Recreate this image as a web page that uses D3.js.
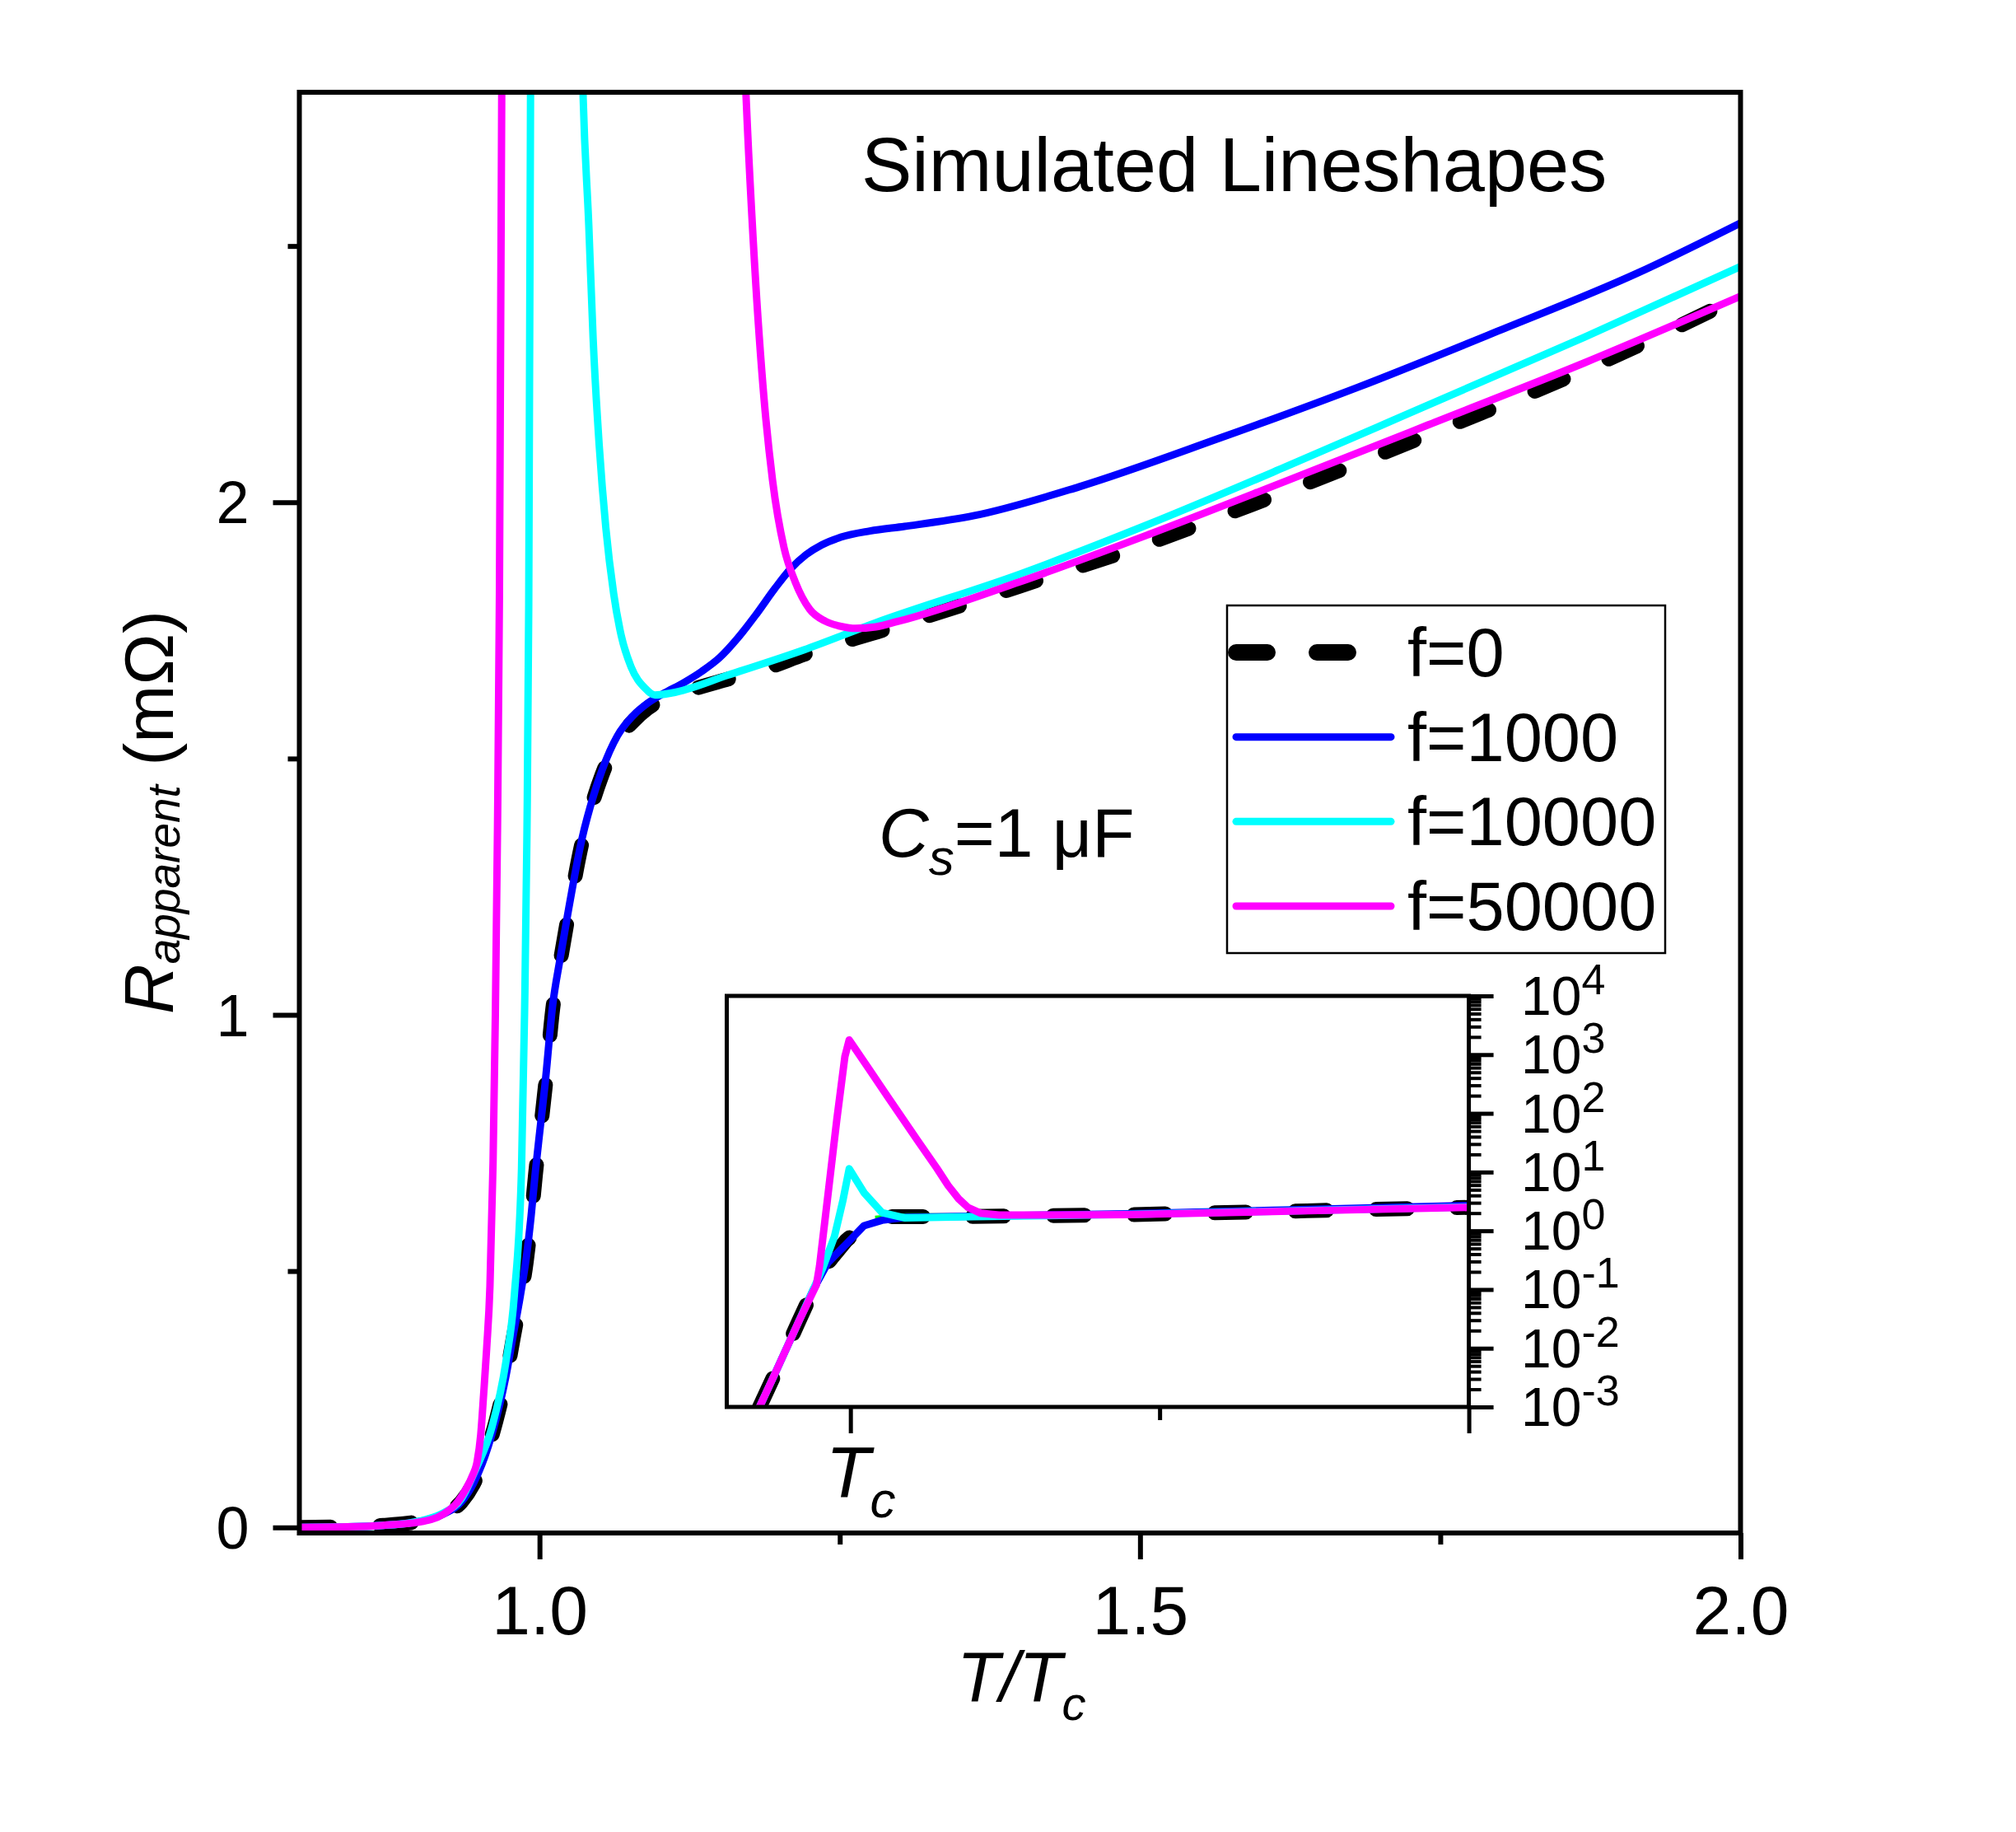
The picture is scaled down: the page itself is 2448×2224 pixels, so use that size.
<!DOCTYPE html>
<html>
<head>
<meta charset="utf-8">
<script src="https://cdn.jsdelivr.net/npm/d3@7"></script>
<style>
  body { margin: 0; background: #fff; }
  text { font-family: "Liberation Sans", Arial, sans-serif; fill: #000; }
</style>
</head>
<body>
<svg id="chart"></svg>
<script>
// ---- main panel: T/Tc vs R_apparent (mOhm) ----
const tF0 = [0.80, 0.84, 0.87, 0.89, 0.905, 0.92, 0.935, 0.945, 0.955, 0.964, 0.972, 0.978, 0.984, 0.989, 0.993, 0.9966, 1.0005, 1.0046, 1.011, 1.017, 1.023, 1.035, 1.045, 1.052, 1.065, 1.078, 1.09, 1.104, 1.13, 1.157, 1.19, 1.22, 1.288, 1.35, 1.42, 1.50, 1.57, 1.64, 1.70, 1.766, 1.83, 1.885, 1.95, 2.00]
const rF0 = [0.000, 0.001, 0.004, 0.008, 0.014, 0.026, 0.050, 0.085, 0.140, 0.210, 0.290, 0.368, 0.445, 0.519, 0.600, 0.688, 0.770, 0.856, 1.012, 1.100, 1.182, 1.332, 1.420, 1.468, 1.535, 1.573, 1.598, 1.618, 1.637, 1.655, 1.677, 1.703, 1.752, 1.798, 1.852, 1.914, 1.975, 2.038, 2.094, 2.157, 2.218, 2.274, 2.345, 2.402]

const tF1000 = [0.80, 0.84, 0.87, 0.89, 0.905, 0.92, 0.935, 0.945, 0.955, 0.964, 0.972, 0.978, 0.984, 0.989, 0.993, 0.9966, 1.0005, 1.0046, 1.011, 1.017, 1.023, 1.035, 1.045, 1.052, 1.065, 1.078, 1.09, 1.104, 1.12, 1.135, 1.15, 1.165, 1.18, 1.196, 1.209, 1.222, 1.235, 1.251, 1.275, 1.304, 1.362, 1.449, 1.565, 1.681, 1.798, 1.914, 2.00]
const rF1000 = [0.000, 0.001, 0.004, 0.008, 0.014, 0.026, 0.050, 0.086, 0.142, 0.213, 0.295, 0.374, 0.452, 0.527, 0.608, 0.696, 0.779, 0.865, 1.020, 1.108, 1.190, 1.340, 1.428, 1.477, 1.545, 1.584, 1.608, 1.628, 1.648, 1.670, 1.697, 1.735, 1.780, 1.832, 1.870, 1.898, 1.917, 1.932, 1.944, 1.953, 1.974, 2.030, 2.124, 2.224, 2.334, 2.447, 2.545]

const tF10000 = [0.80, 0.84, 0.87, 0.89, 0.905, 0.92, 0.935, 0.947, 0.960, 0.972, 0.979, 0.985, 0.9875, 0.9895, 0.991, 0.9925, 0.995, 1.0, 1.01, 1.025, 1.0363, 1.041, 1.0446, 1.0497, 1.0552, 1.0617, 1.068, 1.076, 1.088, 1.096, 1.11, 1.157, 1.22, 1.28, 1.40, 1.507, 1.62, 1.74, 1.87, 2.00]
const rF10000 = [0.000, 0.001, 0.004, 0.008, 0.015, 0.028, 0.056, 0.114, 0.193, 0.323, 0.453, 0.700, 1.000, 1.350, 1.800, 2.800, 5.0, 11.4, 8.0, 4.5, 2.79, 2.54, 2.32, 2.11, 1.95, 1.822, 1.740, 1.680, 1.637, 1.624, 1.628, 1.663, 1.712, 1.765, 1.860, 1.957, 2.068, 2.190, 2.322, 2.460]

const tF50000 = [0.80, 0.84, 0.87, 0.899, 0.92, 0.932, 0.939, 0.944, 0.948, 0.951, 0.9534, 0.956, 0.9587, 0.9613, 0.9632, 0.965, 0.9666, 0.9685, 0.975, 0.99, 1.0, 1.05, 1.1, 1.14, 1.172, 1.179, 1.187, 1.194, 1.2036, 1.213, 1.225, 1.238, 1.251, 1.263, 1.28, 1.2975, 1.40, 1.507, 1.62, 1.74, 1.87, 2.00]
const rF50000 = [0.000, 0.001, 0.004, 0.010, 0.026, 0.050, 0.076, 0.100, 0.128, 0.180, 0.258, 0.350, 0.470, 0.713, 1.000, 1.364, 1.820, 2.790, 8.0, 300, 1900, 200, 25, 6.0, 2.79, 2.467, 2.200, 2.043, 1.911, 1.844, 1.791, 1.768, 1.758, 1.754, 1.757, 1.767, 1.845, 1.937, 2.040, 2.151, 2.272, 2.402]

// ---- inset: same curves on a log axis ----
const tiF0 = [0.853, 0.877, 0.916, 0.94, 0.964, 0.993, 1.031, 1.061, 1.177, 1.448, 1.738, 2.0]
const riF0 = [0.001, 0.0035, 0.028, 0.1, 0.29, 0.68, 1.53, 1.74, 1.74, 1.88, 2.19, 2.5]
const tiGreen = [1.04, 1.09, 1.2, 1.45, 1.74, 2.0]
const riGreen = [1.62, 1.78, 1.78, 1.93, 2.26, 2.6]
const tiF1000 = [0.853, 0.877, 0.916, 0.94, 0.964, 0.993, 1.022, 1.051, 1.09, 1.2, 1.45, 1.74, 2.0]
const riF1000 = [0.001, 0.0035, 0.028, 0.1, 0.29, 0.59, 1.22, 1.51, 1.70, 1.77, 1.95, 2.3, 2.7]
const tiF10000 = [0.853, 0.877, 0.916, 0.94, 0.955, 0.974, 0.988, 0.998, 1.022, 1.051, 1.087, 1.2, 1.45, 1.74, 2.0]
const riF10000 = [0.001, 0.0035, 0.028, 0.1, 0.23, 0.79, 3.35, 11.4, 4.45, 2.04, 1.66, 1.74, 1.9, 2.22, 2.55]
const tiF50000 = [0.853, 0.877, 0.916, 0.945, 0.95, 0.964, 0.978, 0.991, 0.998, 1.03, 1.061, 1.109, 1.14, 1.158, 1.175, 1.19, 1.21, 1.24, 1.45, 1.74, 2.0]
const riF50000 = [0.001, 0.0035, 0.028, 0.12, 0.25, 4.4, 79, 925, 1780, 568, 186, 34, 11.5, 5.9, 3.5, 2.5, 2.0, 1.85, 1.88, 2.19, 2.5]

// ticks
const xMajor = [1.0, 1.5, 2.0]
const xMinor = [1.25, 1.75]
const yMajor = [0, 1, 2]
const yMinor = [0.5, 1.5, 2.5]
const insetXMajor = [1.0, 2.0]
const insetXMinor = [1.5]
const insetDecades = [-3, -2, -1, 0, 1, 2, 3, 4]
const legendNames = ['f=0', 'f=1000', 'f=10000', 'f=50000']

const zip = (a, b) => a.map((v, i) => [v, b[i]])

const series = [
  { name: 'f=0', main: zip(tF0, rF0), inset: zip(tiF0, riF0), color: '#000000', width: 18, dash: '38 60' },
  { name: 'f=1000', main: zip(tF1000, rF1000), inset: zip(tiF1000, riF1000), color: '#0000ff', width: 9 },
  { name: 'f=10000', main: zip(tF10000, rF10000), inset: zip(tiF10000, riF10000), color: '#00ffff', width: 9 },
  { name: 'f=50000', main: zip(tF50000, rF50000), inset: zip(tiF50000, riF50000), color: '#ff00ff', width: 9 }
]

const width = 2448
const height = 2224

const svg = d3.select('#chart')
  .attr('width', width)
  .attr('height', height)

const x = d3.scaleLinear().domain([0.8, 2.0]).range([363.5, 2113.5])
const y = d3.scaleLinear().domain([-0.011, 2.8]).range([1861, 112])

const defs = svg.append('defs')
defs.append('clipPath').attr('id', 'clipMain')
  .append('rect')
  .attr('x', x.range()[0]).attr('y', y.range()[1])
  .attr('width', x.range()[1] - x.range()[0])
  .attr('height', y.range()[0] - y.range()[1])

const line = d3.line()
  .x(d => x(d[0]))
  .y(d => y(d[1]))
  .curve(d3.curveMonotoneX)

// main curves
const curves = svg.append('g').attr('clip-path', 'url(#clipMain)')
series.forEach(s => {
  curves.append('path')
    .datum(s.main)
    .attr('d', line)
    .attr('fill', 'none')
    .attr('stroke', s.color)
    .attr('stroke-width', s.width)
    .attr('stroke-dasharray', s.dash || null)
    .attr('stroke-linecap', s.dash ? 'round' : 'butt')
    .attr('stroke-linejoin', 'round')
})

// main axes
function styleAxis(g, size, sw) {
  g.select('.domain').remove()
  g.selectAll('line').attr('stroke', '#000').attr('stroke-width', sw)
  g.attr('font-family', '"Liberation Sans", Arial, sans-serif').attr('font-size', size)
}

const xAxisG = svg.append('g')
  .attr('transform', 'translate(0,' + y.range()[0] + ')')
  .call(d3.axisBottom(x).tickValues(xMajor).tickSize(32).tickSizeOuter(0).tickFormat(d3.format('.1f')))
styleAxis(xAxisG, 84, 6)
xAxisG.selectAll('text').attr('y', 123).attr('dy', 0)

svg.append('g')
  .attr('transform', 'translate(0,' + y.range()[0] + ')')
  .call(d3.axisBottom(x).tickValues(xMinor).tickSize(14).tickSizeOuter(0).tickFormat(''))
  .call(g => styleAxis(g, 10, 6))

const yAxisG = svg.append('g')
  .attr('transform', 'translate(' + x.range()[0] + ',0)')
  .call(d3.axisLeft(y).tickValues(yMajor).tickSize(32).tickSizeOuter(0).tickFormat(d3.format('d')))
styleAxis(yAxisG, 72, 6)
yAxisG.selectAll('text').attr('x', -61).attr('dy', '0.35em')

svg.append('g')
  .attr('transform', 'translate(' + x.range()[0] + ',0)')
  .call(d3.axisLeft(y).tickValues(yMinor).tickSize(14).tickSizeOuter(0).tickFormat(''))
  .call(g => styleAxis(g, 10, 6))

svg.append('rect')
  .attr('x', x.range()[0]).attr('y', y.range()[1])
  .attr('width', x.range()[1] - x.range()[0])
  .attr('height', y.range()[0] - y.range()[1])
  .attr('fill', 'none').attr('stroke', '#000').attr('stroke-width', 6)

// axis titles
const yTitle = svg.append('text')
  .attr('transform', 'translate(210,986) rotate(-90)')
  .attr('text-anchor', 'middle')
  .attr('font-size', 84)
yTitle.append('tspan').attr('font-style', 'italic').text('R')
yTitle.append('tspan').attr('font-style', 'italic').attr('font-size', 55).attr('dy', 8).text('apparent')
yTitle.append('tspan').attr('dy', -8).text(' (mΩ)')

const xTitle = svg.append('text')
  .attr('x', 1162).attr('y', 2065)
  .attr('font-size', 85).attr('font-style', 'italic')
xTitle.append('tspan').text('T/T')
xTitle.append('tspan').attr('font-size', 58).attr('dy', 23).text('c')

// title and annotation
svg.append('text')
  .attr('x', 1046).attr('y', 232)
  .attr('font-size', 92)
  .text('Simulated Lineshapes')

const cs = svg.append('text')
  .attr('x', 1067).attr('y', 1040)
  .attr('font-size', 84)
cs.append('tspan').attr('font-style', 'italic').text('C')
cs.append('tspan').attr('font-style', 'italic').attr('font-size', 62).attr('dy', 22).text('s')
cs.append('tspan').attr('dy', -22).text('=1 μF')

// legend
const legend = svg.append('g')
legend.append('rect')
  .attr('x', 1490).attr('y', 735).attr('width', 532).attr('height', 422)
  .attr('fill', '#fff').attr('stroke', '#000').attr('stroke-width', 2.5)

const rowY = d3.scalePoint().domain(legendNames).range([792, 1100])
series.forEach(s => {
  const yy = rowY(s.name)
  legend.append('line')
    .attr('x1', 1501).attr('x2', 1689).attr('y1', yy).attr('y2', yy)
    .attr('stroke', s.color)
    .attr('stroke-width', s.dash ? 20 : 9)
    .attr('stroke-dasharray', s.dash || null)
    .attr('stroke-linecap', 'round')
  legend.append('text')
    .attr('x', 1709).attr('y', yy).attr('dy', '0.35em')
    .attr('font-size', 83)
    .text(s.name)
})

// inset
const xi = d3.scaleLinear().domain([0.8, 2.0]).range([882.5, 1783.6])
const yi = d3.scaleLog().domain([1e-3, 1e4]).range([1708, 1209])

defs.append('clipPath').attr('id', 'clipInset')
  .append('rect')
  .attr('x', xi.range()[0]).attr('y', yi.range()[1])
  .attr('width', xi.range()[1] - xi.range()[0])
  .attr('height', yi.range()[0] - yi.range()[1])

svg.append('rect')
  .attr('x', xi.range()[0]).attr('y', yi.range()[1])
  .attr('width', xi.range()[1] - xi.range()[0])
  .attr('height', yi.range()[0] - yi.range()[1])
  .attr('fill', '#fff')

const lineInset = d3.line()
  .x(d => xi(d[0]))
  .y(d => yi(d[1]))

const insetCurves = svg.append('g').attr('clip-path', 'url(#clipInset)')
const insetOrder = [series[0], { inset: zip(tiGreen, riGreen), color: '#00ff00', width: 7 }, series[1], series[2], series[3]]
insetOrder.forEach(s => {
  insetCurves.append('path')
    .datum(s.inset)
    .attr('d', lineInset)
    .attr('fill', 'none')
    .attr('stroke', s.color)
    .attr('stroke-width', s.width)
    .attr('stroke-dasharray', s.dash || null)
    .attr('stroke-linecap', s.dash ? 'round' : 'butt')
    .attr('stroke-linejoin', 'round')
})

svg.append('rect')
  .attr('x', xi.range()[0]).attr('y', yi.range()[1])
  .attr('width', xi.range()[1] - xi.range()[0])
  .attr('height', yi.range()[0] - yi.range()[1])
  .attr('fill', 'none').attr('stroke', '#000').attr('stroke-width', 5)

svg.append('g')
  .attr('transform', 'translate(0,' + yi.range()[0] + ')')
  .call(d3.axisBottom(xi).tickValues(insetXMajor).tickSize(32).tickSizeOuter(0).tickFormat(''))
  .call(g => styleAxis(g, 10, 5))
svg.append('g')
  .attr('transform', 'translate(0,' + yi.range()[0] + ')')
  .call(d3.axisBottom(xi).tickValues(insetXMinor).tickSize(16).tickSizeOuter(0).tickFormat(''))
  .call(g => styleAxis(g, 10, 5))

const decadeValues = insetDecades.map(e => Math.pow(10, e))
const minorValues = []
insetDecades.slice(0, -1).forEach(e => {
  for (let k = 2; k <= 9; k++) minorValues.push(k * Math.pow(10, e))
})

svg.append('g')
  .attr('transform', 'translate(' + xi.range()[1] + ',0)')
  .call(d3.axisRight(yi).tickValues(decadeValues).tickSize(30).tickSizeOuter(0).tickFormat(''))
  .call(g => styleAxis(g, 10, 5))
svg.append('g')
  .attr('transform', 'translate(' + xi.range()[1] + ',0)')
  .call(d3.axisRight(yi).tickValues(minorValues).tickSize(15).tickSizeOuter(0).tickFormat(''))
  .call(g => styleAxis(g, 10, 4))

const insetLabels = svg.append('g')
insetDecades.forEach(e => {
  const t = insetLabels.append('text')
    .attr('x', 1847).attr('y', yi(Math.pow(10, e))).attr('dy', 23)
    .attr('font-size', 66)
  t.append('tspan').text('10')
  t.append('tspan').attr('font-size', 52).attr('dy', -25).text(String(e))
})

const tcLabel = svg.append('text')
  .attr('x', xi(1.0) - 30).attr('y', 1817)
  .attr('font-size', 88).attr('font-style', 'italic')
tcLabel.append('tspan').text('T')
tcLabel.append('tspan').attr('font-size', 62).attr('dy', 25).text('c')
</script>
</body>
</html>
